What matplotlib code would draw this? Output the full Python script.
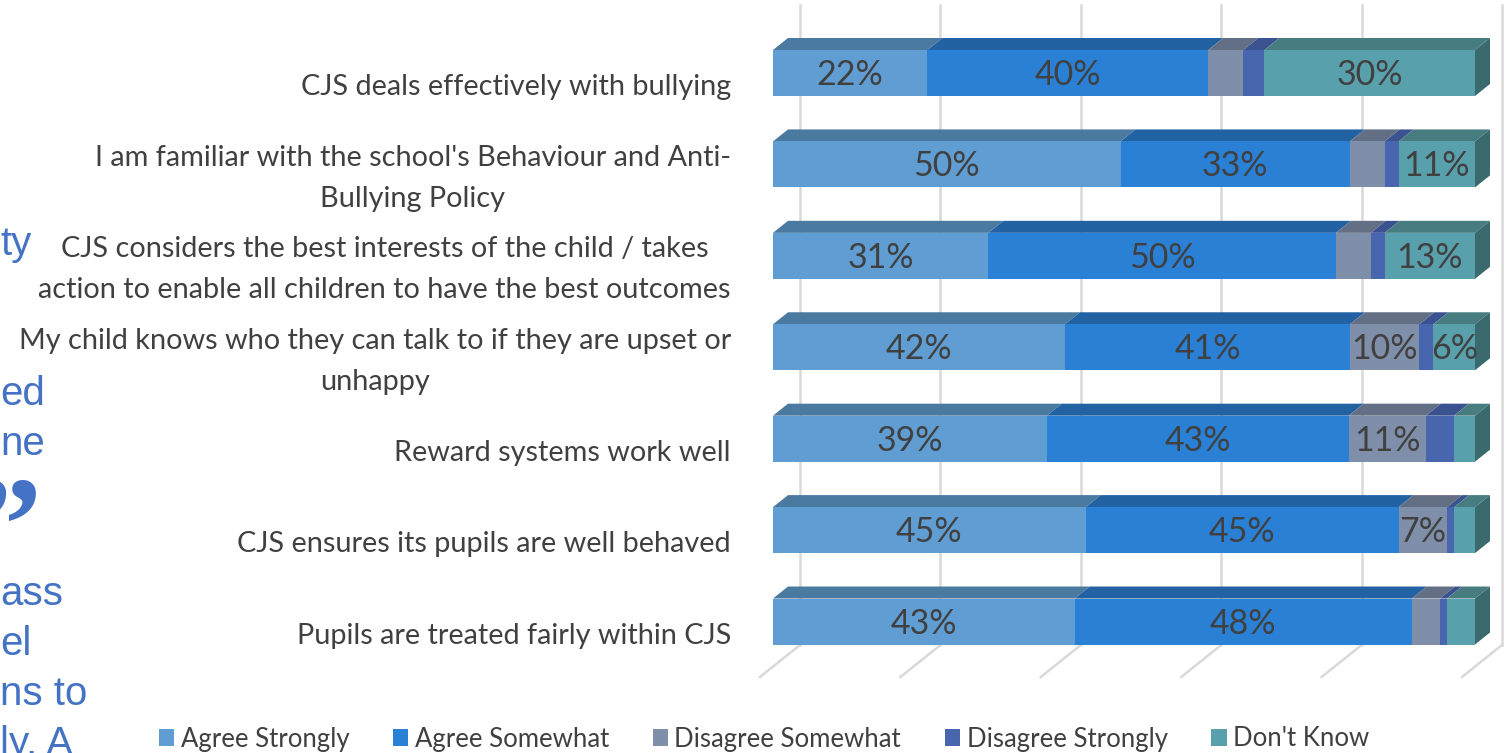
import numpy as np
import matplotlib.pyplot as plt
from matplotlib.patches import Polygon, Patch

categories = [
    "CJS deals effectively with bullying",
    "I am familiar with the school's Behaviour and Anti-\nBullying Policy",
    "CJS considers the best interests of the child / takes\naction to enable all children to have the best outcomes",
    "My child knows who they can talk to if they are upset or\nunhappy",
    "Reward systems work well",
    "CJS ensures its pupils are well behaved",
    "Pupils are treated fairly within CJS",
]
series_names = ["Agree Strongly", "Agree Somewhat", "Disagree Somewhat", "Disagree Strongly", "Don't Know"]

agree_strongly = [22, 50, 31, 42, 39, 45, 43]
agree_somewhat = [40, 33, 50, 41, 43, 45, 48]
disagree_somewhat = [5, 5, 5, 10, 11, 7, 4]
disagree_strongly = [3, 2, 2, 2, 4, 1, 1]
dont_know = [30, 11, 13, 6, 3, 3, 4]

# blue text from the page behind the chart, cut at the left edge
page_fragments = ["ty", "", "", "ed", "ne", "", "", "ass", "el", "ns to", "ly. A"]

front_cols = ["#5f9dd3", "#2980d5", "#7f8fa9", "#4766ad", "#59a0ad"]
top_cols = ["#4b7aa1", "#2262a3", "#636f84", "#3b5290", "#477c81"]
side_col = "#3b6a6e"
text_col = "#404040"
grid_col = "#d9d9d9"
page_blue = "#4472c4"

font = "Lato"

W, H = 1508, 753
fig = plt.figure(figsize=(W / 100, H / 100), dpi=100)

# pixel geometry of the front plane: 0% at x=773, 100% at x=1475, first bar centre at y=73
x0_px, x1_px = 773, 1475
px_x = 100 / (x1_px - x0_px)
step_px = 91.42
px_y = 1 / step_px
top_px = 73

ax = fig.add_axes([x0_px / W, 0, (x1_px - x0_px) / W, 1])
ax.set_xlim(0, 100)
ax.set_ylim((H - top_px) * px_y, -top_px * px_y)
ax.set_axis_off()

data = np.array([agree_strongly, agree_somewhat, disagree_somewhat, disagree_strongly, dont_know], dtype=float)
shares = data / data.sum(axis=0) * 100
y = np.arange(len(categories))

bar_h = 46 * px_y
bar_dx, bar_dy = 15 * px_x, 12 * px_y
wall_dx, wall_dy = 27 * px_x, 0.8 * 27 * px_y
floor_dx, floor_dy = -13 * px_x, -0.8 * 13 * px_y

# back wall gridlines and floor lines
for t in range(0, 101, 20):
    yt = (5 - top_px) * px_y
    yb = (645 - top_px) * px_y
    ax.plot([t + wall_dx, t + wall_dx], [yt, yb], color=grid_col, lw=1.8, zorder=0, clip_on=False)
    ax.plot([t + wall_dx, t + floor_dx], [yb, yb + wall_dy - floor_dy], color=grid_col, lw=1.8, zorder=0, clip_on=False)

left = np.zeros(len(categories))
for j, name in enumerate(series_names):
    w = shares[j]
    ax.barh(y, w, left=left, height=bar_h, color=front_cols[j], zorder=3, clip_on=False)
    for i in range(len(categories)):
        top = y[i] - bar_h / 2
        poly = [(left[i], top), (left[i] + w[i], top),
                (left[i] + w[i] + bar_dx, top - bar_dy), (left[i] + bar_dx, top - bar_dy)]
        ax.add_patch(Polygon(poly, closed=True, facecolor=top_cols[j], edgecolor="none", zorder=2, clip_on=False))
        if data[j, i] >= 6:
            ax.text(left[i] + w[i] / 2, y[i] + 2 * px_y, f"{int(data[j, i])}%", ha="center", va="center",
                    fontsize=24.5, color=text_col, family=font, zorder=5)
    left = left + w

for i in range(len(categories)):
    top = y[i] - bar_h / 2
    side = [(100, top), (100 + bar_dx, top - bar_dy), (100 + bar_dx, top + bar_h - bar_dy), (100, top + bar_h)]
    ax.add_patch(Polygon(side, closed=True, facecolor=side_col, edgecolor="none", zorder=2, clip_on=False))
    ax.text((731 - x0_px) * px_x, y[i] + 14 * px_y, categories[i], ha="right", va="center", multialignment="center",
            fontsize=20.8, color=text_col, family=font, linespacing=1.72, clip_on=False)

for k, frag in enumerate(page_fragments):
    if frag:
        fig.text(0.0, 1 - (255 + 50 * k) / H, frag, ha="left", va="baseline", fontsize=29,
                 color=page_blue, family="Liberation Sans")
fig.text(42 / W, 1 - 570 / H, "\u201d", ha="right", va="baseline", fontsize=98, color=page_blue,
         family="Liberation Serif", fontweight="bold")

handles = [Patch(facecolor=c, edgecolor="none") for c in front_cols]
fig.legend(handles, series_names, loc="center", bbox_to_anchor=(764 / W, 1 - 739 / H), ncol=5, frameon=False,
           prop={"family": font, "size": 18.5}, labelcolor=text_col, handlelength=0.6, handleheight=0.6,
           handletextpad=0.25, columnspacing=1.7)

fig.savefig("out.png", dpi=100)
